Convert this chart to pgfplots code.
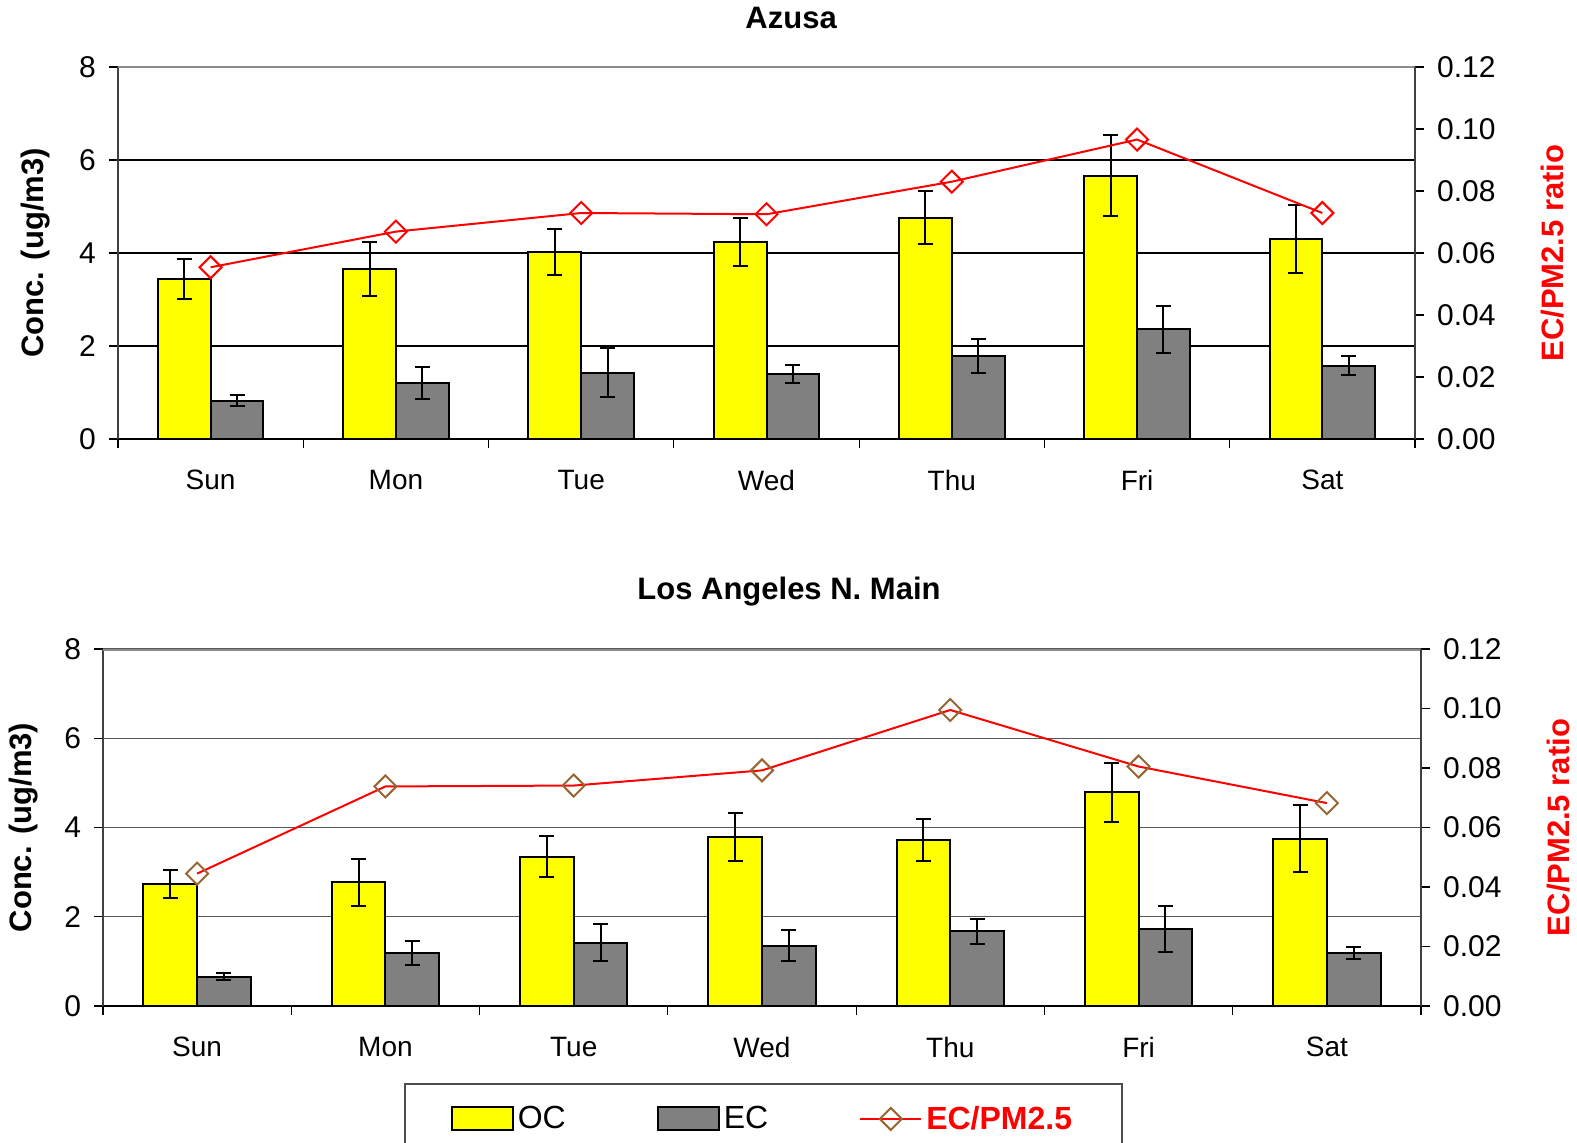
\documentclass[border=0pt]{standalone}
\usepackage{fontspec}
\setmainfont{Liberation Sans}
\usepackage{pgfplots}
\usepackage{pgfplotstable}
\pgfplotsset{compat=1.18}

\definecolor{ocyellow}{RGB}{255,255,0}
\definecolor{ecgray}{RGB}{128,128,128}
\definecolor{ratiored}{RGB}{255,0,0}
\definecolor{markbrown}{RGB}{153,102,51}
\definecolor{framegray}{RGB}{140,140,140}

% day, OC mean and spread, EC mean and spread, EC/PM2.5 ratio
\pgfplotstableread{
x OC OCerr EC ECerr ratio
0 3.44 0.43 0.82 0.12 0.0554
1 3.65 0.58 1.20 0.35 0.0669
2 4.02 0.49 1.43 0.53 0.0729
3 4.24 0.52 1.40 0.19 0.0725
4 4.76 0.57 1.79 0.37 0.0830
5 5.66 0.87 2.36 0.50 0.0966
6 4.31 0.73 1.58 0.21 0.0729
}\azusa

\pgfplotstableread{
x OC OCerr EC ECerr ratio
0 2.74 0.31 0.66 0.08 0.0445
1 2.77 0.53 1.18 0.27 0.0738
2 3.35 0.46 1.42 0.41 0.0741
3 3.79 0.53 1.35 0.35 0.0792
4 3.72 0.47 1.67 0.29 0.0995
5 4.79 0.66 1.73 0.51 0.0805
6 3.75 0.75 1.19 0.13 0.0682
}\lamain

\newcommand{\tickfont}{\fontsize{15}{18}\selectfont}
\newcommand{\catfont}{\fontsize{14}{17}\selectfont}
\newcommand{\labfont}{\bfseries\fontsize{15.5}{18}\selectfont}

\pgfplotsset{
  common/.style={
    scale only axis, anchor=south west,
    xmin=-0.5, xmax=6.5,
    tick align=outside,
    major tick length=4.5pt, minor tick length=4.5pt,
    /pgf/number format/assume math mode=true,
    tick style={black, line width=0.6pt},
  },
  barsaxis/.style={
    common,
    ymin=0, ymax=8, ytick={0,2,4,6,8},
    axis x line*=bottom, axis y line*=left,
    x axis line style={black, line width=0.8pt},
    y axis line style={black!75, line width=0.8pt},
    xtick={0,...,6},
    xticklabels={Sun,Mon,Tue,Wed,Thu,Fri,Sat},
    major x tick style={draw=none},
    minor xtick={-0.5,0.5,...,6.5},
    xticklabel style={font=\catfont, yshift=-7.5pt},
    yticklabel style={font=\tickfont, xshift=-3pt},
    ymajorgrids,
    every axis y label/.style={rotate=90, anchor=center, font=\labfont},
    every axis title/.style={anchor=center, font=\labfont},
  },
  ratioaxis/.style={
    common,
    ymin=0, ymax=0.12,
    ytick={0,0.02,0.04,0.06,0.08,0.10,0.12},
    scaled y ticks=false,
    axis x line=none, axis y line*=right,
    xtick=\empty,
    y axis line style={black!75, line width=0.8pt},
    yticklabel style={font=\tickfont, xshift=3pt,
      /pgf/number format/.cd, fixed, fixed zerofill, precision=2},
    every axis y label/.style={rotate=90, anchor=center, font=\labfont, text=ratiored},
  },
  % bars are placed left/right of each day through x expr, so the
  % error bars sit on the bar centres
  barstyle/.style={
    ybar, bar width=0.285, bar shift=0pt, draw=black, line width=1pt,
    legend image code/.code={\draw[##1, line width=1pt] (0pt,-5.75pt) rectangle (30.5pt,5.75pt);},
    error bars/y dir=both,
    error bars/y explicit,
    error bars/error bar style={black, line width=1pt},
    error bars/error mark options={rotate=90, black, line width=1pt, mark size=3.75pt},
  },
  ratiolegend/.style={
    legend image code/.code={\draw[mark repeat=2, mark phase=2, ##1]
      plot coordinates {(0pt,0pt) (15.25pt,0pt) (30.5pt,0pt)};},
  },
}

\begin{document}
\begin{tikzpicture}
\path[use as bounding box] (0,0) rectangle (788.5pt,571pt);

% ---------------- Azusa ----------------
\begin{axis}[barsaxis, at={(59pt,351.5pt)}, width=648.5pt, height=186pt,
  grid style={black, line width=0.6pt},
  title={Azusa},
  title style={at={(axis description cs:0.519,1.132)}},
  ylabel={Conc. (ug/m3)},
  every axis y label/.append style={at={(axis description cs:-0.0632,0.5)}},
]
\addplot[barstyle, fill=ocyellow]
  table[x expr=\thisrow{x}-0.1425, y=OC, y error=OCerr] {\azusa};
\addplot[barstyle, fill=ecgray]
  table[x expr=\thisrow{x}+0.1425, y=EC, y error=ECerr] {\azusa};
\draw[framegray, line width=1.5pt] (rel axis cs:0,1) -- (rel axis cs:1,1);
\end{axis}

\begin{axis}[ratioaxis, at={(59pt,351.5pt)}, width=648.5pt, height=186pt,
  ylabel={EC/PM2.5 ratio},
  every axis y label/.append style={at={(axis description cs:1.1064,0.5)}},
]
\addplot[ratiored, line width=1pt, mark=diamond, mark size=5.5pt,
  mark options={draw=ratiored, fill=none, xscale=1.333, line width=1pt}]
  table[x=x, y=ratio] {\azusa};
\end{axis}

% ---------------- Los Angeles N. Main ----------------
\begin{axis}[barsaxis, at={(51.5pt,68pt)}, width=659pt, height=178.5pt,
  grid style={black!65, line width=0.6pt},
  title={Los Angeles N. Main},
  title style={at={(axis description cs:0.5205,1.162)}},
  ylabel={Conc. (ug/m3)},
  every axis y label/.append style={at={(axis description cs:-0.0599,0.5)}},
  legend columns=3,
  legend style={at={(axis description cs:0.2284,-0.2157)}, anchor=north west,
    draw=black!70, line width=0.8pt, font=\fontsize{16}{19}\selectfont,
    inner xsep=23pt, inner ysep=9pt,
    /tikz/every even column/.append style={column sep=43.5pt}},
]
\addplot[barstyle, fill=ocyellow]
  table[x expr=\thisrow{x}-0.1425, y=OC, y error=OCerr] {\lamain};
\addlegendentry{OC}
\addplot[barstyle, fill=ecgray]
  table[x expr=\thisrow{x}+0.1425, y=EC, y error=ECerr] {\lamain};
\addlegendentry{EC}
\addlegendimage{ratiored, line width=1pt, mark=diamond, mark size=5.5pt,
  mark options={draw=markbrown, fill=none, xscale=1.333, line width=1pt},
  ratiolegend}
\addlegendentry{\textcolor{ratiored}{\bfseries EC/PM2.5}}
\draw[framegray, line width=1.5pt] (rel axis cs:0,1) -- (rel axis cs:1,1);
\end{axis}

\begin{axis}[ratioaxis, at={(51.5pt,68pt)}, width=659pt, height=178.5pt,
  ylabel={EC/PM2.5 ratio},
  every axis y label/.append style={at={(axis description cs:1.1047,0.5)}},
]
\addplot[ratiored, line width=1pt, mark=diamond, mark size=5.5pt,
  mark options={draw=markbrown, fill=none, xscale=1.333, line width=1pt}]
  table[x=x, y=ratio] {\lamain};
\end{axis}
\end{tikzpicture}
\end{document}
